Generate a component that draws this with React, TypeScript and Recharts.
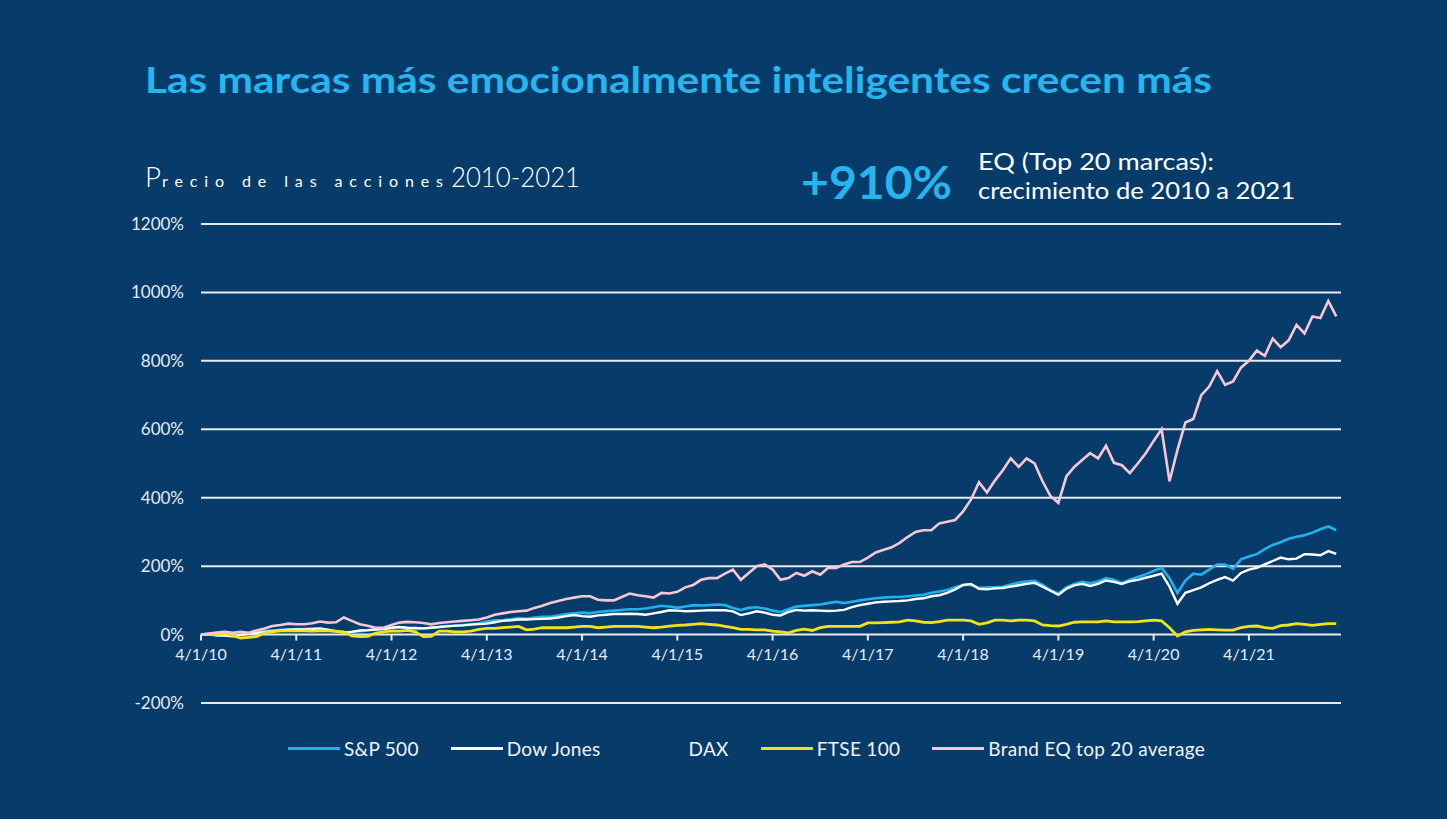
import React from 'react';
import { LineChart, Line, XAxis, YAxis, CartesianGrid, Legend, ReferenceDot } from 'recharts';

// ---------- data ----------
const xTickMonths = [0, 12, 24, 36, 48, 60, 72, 84, 96, 108, 120, 132];
const xTickLabels = ['4/1/10', '4/1/11', '4/1/12', '4/1/13', '4/1/14', '4/1/15', '4/1/16', '4/1/17', '4/1/18', '4/1/19', '4/1/20', '4/1/21'];
const yTicks = [-200, 0, 200, 400, 600, 800, 1000, 1200];

const sp500 = [
  0, 2, -3, -2, -5, 0, 3, 6, 10, 12,
  14, 15, 16, 16, 18, 17, 12, 8, 5, 8,
  10, 12, 16, 18, 20, 22, 18, 16, 18, 20,
  22, 25, 26, 28, 30, 32, 38, 42, 42, 45,
  48, 46, 50, 52, 52, 56, 60, 62, 64, 62,
  66, 68, 70, 72, 74, 74, 76, 80, 84, 82,
  78, 82, 86, 85, 86, 88, 86, 78, 72, 78,
  80, 76, 70, 66, 74, 82, 84, 86, 88, 92,
  96, 92, 96, 100, 103, 106, 108, 110, 110, 112,
  114, 116, 122, 126, 130, 138, 145, 145, 136, 138,
  138, 140, 146, 152, 155, 157, 145, 130, 120, 138,
  148, 154, 150, 155, 165, 160, 150, 160, 168, 176,
  186, 195, 165, 122, 158, 178, 175, 190, 205, 205,
  192, 220, 228, 235, 250, 262, 270, 280, 286, 290,
  298, 308, 316, 305,
];

const dowJones = [
  0, 2, -2, -3, -5, -1, 2, 5, 8, 10,
  12, 14, 15, 15, 16, 18, 14, 10, 6, 8,
  12, 13, 15, 16, 20, 22, 20, 19, 18, 20,
  22, 24, 26, 27, 29, 31, 32, 36, 40, 42,
  44, 44, 45, 46, 47, 50, 54, 57, 54, 52,
  56, 58, 60, 60, 61, 60, 58, 62, 66, 71,
  70, 68, 69, 70, 71, 71, 71, 68, 57, 62,
  68, 64, 58, 56, 66, 72, 70, 71, 70, 69,
  70, 72, 80, 86, 90, 94, 96, 97, 98, 100,
  104, 106, 112, 115, 122, 132, 145, 148, 134, 132,
  135, 136, 140, 144, 148, 151, 140, 128, 116, 134,
  144, 148, 142, 148, 158, 154, 148, 156, 160, 166,
  172, 178, 140, 90, 122, 130, 138, 150, 160, 168,
  158, 180, 190, 195, 205, 215, 225, 220, 222, 235,
  234, 232, 244, 236,
];

const ftse100 = [
  0, 0, 0, 3, -3, -10, -8, -6, 5, 8,
  11, 11, 11, 11, 10, 11, 11, 10, 8, -4,
  -6, -5, 4, 8, 11, 10, 12, 8, -6, -5,
  10, 10, 8, 8, 10, 15, 18, 18, 20, 22,
  24, 14, 16, 20, 20, 20, 20, 22, 24, 24,
  20, 22, 24, 24, 24, 24, 22, 20, 22, 25,
  27, 28, 30, 32, 30, 28, 24, 20, 15, 15,
  14, 14, 10, 8, 5, 12, 16, 12, 20, 24,
  24, 24, 24, 24, 34, 34, 35, 36, 37, 42,
  40, 36, 35, 38, 42, 42, 42, 40, 30, 34,
  42, 42, 40, 42, 42, 40, 28, 26, 25, 30,
  36, 37, 37, 37, 40, 37, 37, 37, 38, 40,
  42, 40, 20, -4, 8, 12, 14, 15, 14, 13,
  13, 20, 24, 25, 20, 18, 26, 28, 32, 30,
  27, 30, 32, 32,
];

const brandEq = [
  0, 3, 6, 8, 5, 8, 5, 12, 18, 25,
  28, 32, 30, 30, 33, 38, 35, 36, 50, 40,
  30, 26, 20, 20, 28, 35, 37, 36, 34, 30,
  34, 36, 38, 40, 42, 44, 50, 58, 62, 66,
  68, 70, 78, 84, 92, 98, 104, 108, 112, 112,
  102, 100, 100, 110, 120, 115, 112, 108, 122, 120,
  125, 138, 145, 160, 165, 165, 178, 190, 160, 180,
  200, 205, 190, 160, 165, 180, 172, 185, 175, 195,
  195, 205, 212, 212, 225, 240, 248, 255, 268, 285,
  300, 305, 305, 325, 330, 335, 360, 395, 445, 415,
  450, 480, 515, 490, 515, 500, 448, 405, 385, 462,
  490, 510, 530, 515, 552, 502, 495, 472, 500, 530,
  566, 600, 448, 540, 620, 630, 700, 725, 770, 730,
  740, 780, 800, 830, 815, 865, 840, 860, 905, 880,
  930, 925, 975, 930,
];

const legendItems = [
  { name: 'S&P 500', color: '#1FB3EE' },
  { name: 'Dow Jones', color: '#FFFFFF' },
  { name: 'DAX', color: null },
  { name: 'FTSE 100', color: '#F2E21A' },
  { name: 'Brand EQ top 20 average', color: '#F8C6D6' },
];

const chartData = brandEq.map((_, i) => ({
  m: i,
  sp: sp500[i],
  dow: dowJones[i],
  ftse: ftse100[i],
  eq: brandEq[i],
}));

// ---------- style ----------
const BG = '#073C6A';
const CYAN = '#25B6EF';
const FONT = 'Lato, "Open Sans", "DejaVu Sans", sans-serif';
const AXIS_TEXT = '#E4EAF1';
const GRID = '#E6E9EE';

const LegendContent = () => (
  <div style={{ display: 'flex', alignItems: 'center', fontFamily: FONT, fontSize: 19, letterSpacing: 0.3, color: '#F0F3F7', whiteSpace: 'nowrap' }}>
    {legendItems.map((it, i) => (
      <div key={it.name} style={{ display: 'flex', alignItems: 'center', marginLeft: i === 0 ? 0 : 32 }}>
        <span style={{ display: 'inline-block', width: 52, height: 3, background: it.color || 'transparent', marginRight: 4 }} />
        <span>{it.name}</span>
      </div>
    ))}
  </div>
);

const makeTick = (label: string) => (props: any) => {
  const { cx, cy } = props;
  return (
    <g>
      <line x1={cx} x2={cx} y1={cy} y2={cy + 6} stroke={GRID} strokeWidth={2} />
      <text x={cx} y={cy + 25} textAnchor="middle" fill={AXIS_TEXT} fontSize={16} fontFamily={FONT}>
        {label}
      </text>
    </g>
  );
};

export default function App() {
  return (
    <div style={{ position: 'absolute', left: 0, top: 0, width: 1447, height: 819, background: BG, overflow: 'hidden' }}>
      <svg width={1447} height={819} style={{ position: 'absolute', left: 0, top: 0 }}>
        <text x={145} y={93} fontFamily={FONT} fontWeight={700} fontSize={36} fill={CYAN} textLength={1067} lengthAdjust="spacingAndGlyphs">
          Las marcas más emocionalmente inteligentes crecen más
        </text>
        <text x={145} y={187} fontFamily={FONT} fontWeight={300} fontSize={28} fill="#FFFFFF" textLength={16} lengthAdjust="spacingAndGlyphs">P</text>
        <text x={162} y={187} fontFamily={FONT} fontWeight={400} fontSize={16} fill="#FFFFFF" textLength={281}>recio de las acciones</text>
        <text x={451} y={187} fontFamily={FONT} fontWeight={300} fontSize={28} fill="#FFFFFF" textLength={129} lengthAdjust="spacingAndGlyphs">2010-2021</text>
        <text x={801} y={199} fontFamily={FONT} fontWeight={700} fontSize={46} fill={CYAN} textLength={151} lengthAdjust="spacingAndGlyphs">+910%</text>
        <text x={978} y={170} fontFamily={FONT} fontWeight={400} fontSize={23} fill="#FFFFFF" textLength={236} lengthAdjust="spacingAndGlyphs">EQ (Top 20 marcas):</text>
        <text x={978} y={199} fontFamily={FONT} fontWeight={400} fontSize={23} fill="#FFFFFF" textLength={317} lengthAdjust="spacingAndGlyphs">crecimiento de 2010 a 2021</text>
      </svg>
      <div style={{ position: 'absolute', left: 0, top: 0 }}>
        <LineChart width={1447} height={819} data={chartData} margin={{ top: 224, right: 106, bottom: 116, left: 0 }}>
          <CartesianGrid vertical={false} stroke={GRID} strokeWidth={2} />
          <XAxis dataKey="m" type="number" domain={[0, 143.6]} ticks={xTickMonths} hide />
          <YAxis
            type="number"
            domain={[-200, 1200]}
            ticks={yTicks}
            width={201}
            axisLine={false}
            tickLine={false}
            tickMargin={11}
            tickFormatter={(v: number) => `${v}%`}
            tick={{ fill: AXIS_TEXT, fontSize: 17, fontFamily: FONT }}
          />
          {xTickMonths.map((m, i) => (
            <ReferenceDot key={m} x={m} y={0} r={0} ifOverflow="visible" shape={makeTick(xTickLabels[i])} />
          ))}
          <Line dataKey="sp" name="S&P 500" stroke="#1FB3EE" strokeWidth={2.6} dot={false} isAnimationActive={false} />
          <Line dataKey="dow" name="Dow Jones" stroke="#FFFFFF" strokeWidth={2.4} dot={false} isAnimationActive={false} />
          <Line dataKey="ftse" name="FTSE 100" stroke="#F2E21A" strokeWidth={2.8} dot={false} isAnimationActive={false} />
          <Line dataKey="eq" name="Brand EQ top 20 average" stroke="#F8C6D6" strokeWidth={2.6} dot={false} isAnimationActive={false} />
          <Legend
            layout="horizontal"
            verticalAlign="middle"
            align="center"
            content={LegendContent}
            wrapperStyle={{ left: 288, top: 737, width: 1000, height: 26 }}
          />
        </LineChart>
      </div>
    </div>
  );
}
